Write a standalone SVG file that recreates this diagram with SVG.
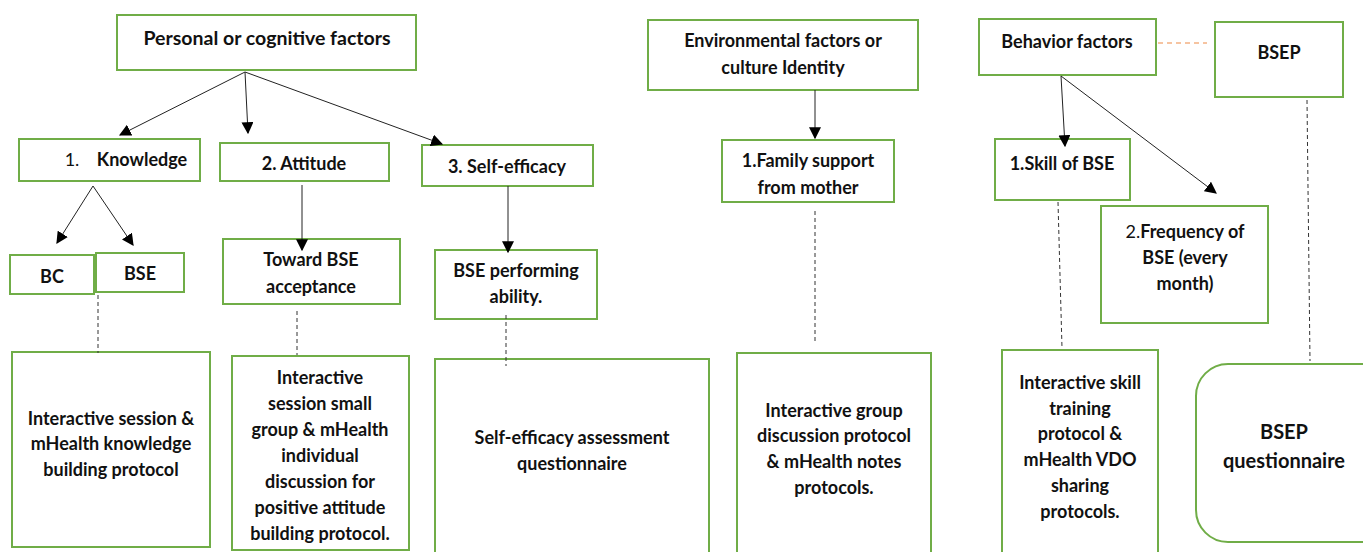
<svg xmlns="http://www.w3.org/2000/svg" width="1363" height="552" viewBox="0 0 1363 552">
<style>
.b{fill:#fff;stroke:#70AD47;stroke-width:2}
.t{font-family:Lato,"Open Sans",sans-serif;font-weight:bold;font-size:18px;fill:#111;text-anchor:middle}
.n{font-weight:normal}
.a{stroke:#222;stroke-width:1;fill:none;marker-end:url(#ah)}
.d{stroke:#333;stroke-width:1;stroke-dasharray:4,3;fill:none}
</style>
<defs>
<marker id="ah" viewBox="0 0 10 10" refX="9" refY="5" markerWidth="12" markerHeight="12" markerUnits="userSpaceOnUse" orient="auto"><path d="M0,0L10,5L0,10z" fill="#000"/></marker>
</defs>
<rect width="1363" height="552" fill="#fff"/>
<g id="personal"><rect class="b" x="117" y="15" width="299" height="55"/><text class="t" x="267" y="45" style="font-size:19.5px">Personal or cognitive factors</text></g>
<g id="knowledge"><rect class="b" x="19" y="139" width="181" height="42"/><text class="t" x="72" y="166"><tspan class="n">1.</tspan></text><text class="t" x="142" y="166">Knowledge</text></g>
<g id="attitude"><rect class="b" x="220" y="143" width="169" height="38"/><text class="t" x="304" y="170">2. Attitude</text></g>
<g id="selfefficacy"><rect class="b" x="422" y="145" width="171" height="41"/><text class="t" x="507" y="173">3. Self-efficacy</text></g>
<g id="bc"><rect class="b" x="10" y="255" width="84" height="39"/><text class="t" x="52" y="283">BC</text></g>
<g id="bse"><rect class="b" x="96" y="253" width="88" height="39"/><text class="t" x="140" y="280">BSE</text></g>
<g id="toward"><rect class="b" x="223" y="239" width="177" height="65"/><text class="t" x="311" y="266">Toward BSE</text><text class="t" x="311" y="293">acceptance</text></g>
<g id="performing"><rect class="b" x="435" y="250" width="162" height="69"/><text class="t" x="516" y="277">BSE performing</text><text class="t" x="516" y="303">ability.</text></g>
<g id="env"><rect class="b" x="648" y="20" width="270" height="70"/><text class="t" x="783" y="47">Environmental factors or</text><text class="t" x="783" y="74">culture Identity</text></g>
<g id="family"><rect class="b" x="722" y="140" width="172" height="62"/><text class="t" x="808" y="167">1.Family support</text><text class="t" x="808" y="194">from mother</text></g>
<g id="behavior"><rect class="b" x="979" y="19" width="177" height="56"/><text class="t" x="1067" y="48">Behavior factors</text></g>
<g id="bsep"><rect class="b" x="1215" y="22" width="128" height="75"/><text class="t" x="1279" y="59">BSEP</text></g>
<g id="skill"><rect class="b" x="995" y="139" width="135" height="61"/><text class="t" x="1062" y="170">1.Skill of BSE</text></g>
<g id="frequency"><rect class="b" x="1101" y="206" width="167" height="117"/><text class="t" x="1185" y="238"><tspan class="n">2.</tspan>Frequency of</text><text class="t" x="1185" y="264">BSE (every</text><text class="t" x="1185" y="290">month)</text></g>
<g id="m1"><rect class="b" x="12" y="352" width="198" height="195"/><text class="t" x="111" y="425">Interactive session &amp;</text><text class="t" x="111" y="450">mHealth knowledge</text><text class="t" x="111" y="476">building protocol</text></g>
<g id="m2"><rect class="b" x="232" y="356" width="177" height="194"/><text class="t" x="320" y="384">Interactive</text><text class="t" x="320" y="410">session small</text><text class="t" x="320" y="436">group &amp; mHealth</text><text class="t" x="320" y="462">individual</text><text class="t" x="320" y="488">discussion for</text><text class="t" x="320" y="514">positive attitude</text><text class="t" x="320" y="540">building protocol.</text></g>
<g id="m3"><rect class="b" x="435" y="359" width="274" height="200"/><text class="t" x="572" y="444">Self-efficacy assessment</text><text class="t" x="572" y="470">questionnaire</text></g>
<g id="m4"><rect class="b" x="737" y="353" width="194" height="206"/><text class="t" x="834" y="417">Interactive group</text><text class="t" x="834" y="442">discussion protocol</text><text class="t" x="834" y="468">&amp; mHealth notes</text><text class="t" x="834" y="494">protocols.</text></g>
<g id="m5"><rect class="b" x="1002" y="350" width="156" height="209"/><text class="t" x="1080" y="389">Interactive skill</text><text class="t" x="1080" y="415">training</text><text class="t" x="1080" y="440">protocol &amp;</text><text class="t" x="1080" y="466">mHealth VDO</text><text class="t" x="1080" y="492">sharing</text><text class="t" x="1080" y="518">protocols.</text></g>
<g id="m6"><rect class="b" x="1196" y="364" width="200" height="178" rx="32"/><text class="t" x="1284" y="439" style="font-size:20px">BSEP</text><text class="t" x="1284" y="468" style="font-size:20px">questionnaire</text></g>
<g id="connectors">
<path class="a" d="M245,72L120,135"/>
<path class="a" d="M245,72L248,133"/>
<path class="a" d="M245,72L442,144"/>
<path class="a" d="M93,186L57,243"/>
<path class="a" d="M93,186L133,245"/>
<path class="a" d="M302,185L302,250"/>
<path class="a" d="M508,186L508,252"/>
<path class="a" d="M815,90L815,138"/>
<path class="a" d="M1061,76L1065,146"/>
<path class="a" d="M1061,76L1216,193"/>
<path class="d" d="M98,295L98,353"/>
<path class="d" d="M297,311L297,355"/>
<path class="d" d="M506,315L506,366"/>
<path class="d" d="M815,211L815,343"/>
<path class="d" d="M1058,202L1062,348"/>
<path class="d" d="M1307,100L1310,361"/>
<path d="M1158,43L1207,43" stroke="#F4B183" stroke-width="1.3" stroke-dasharray="5,4" fill="none"/>
</g>
</svg>
